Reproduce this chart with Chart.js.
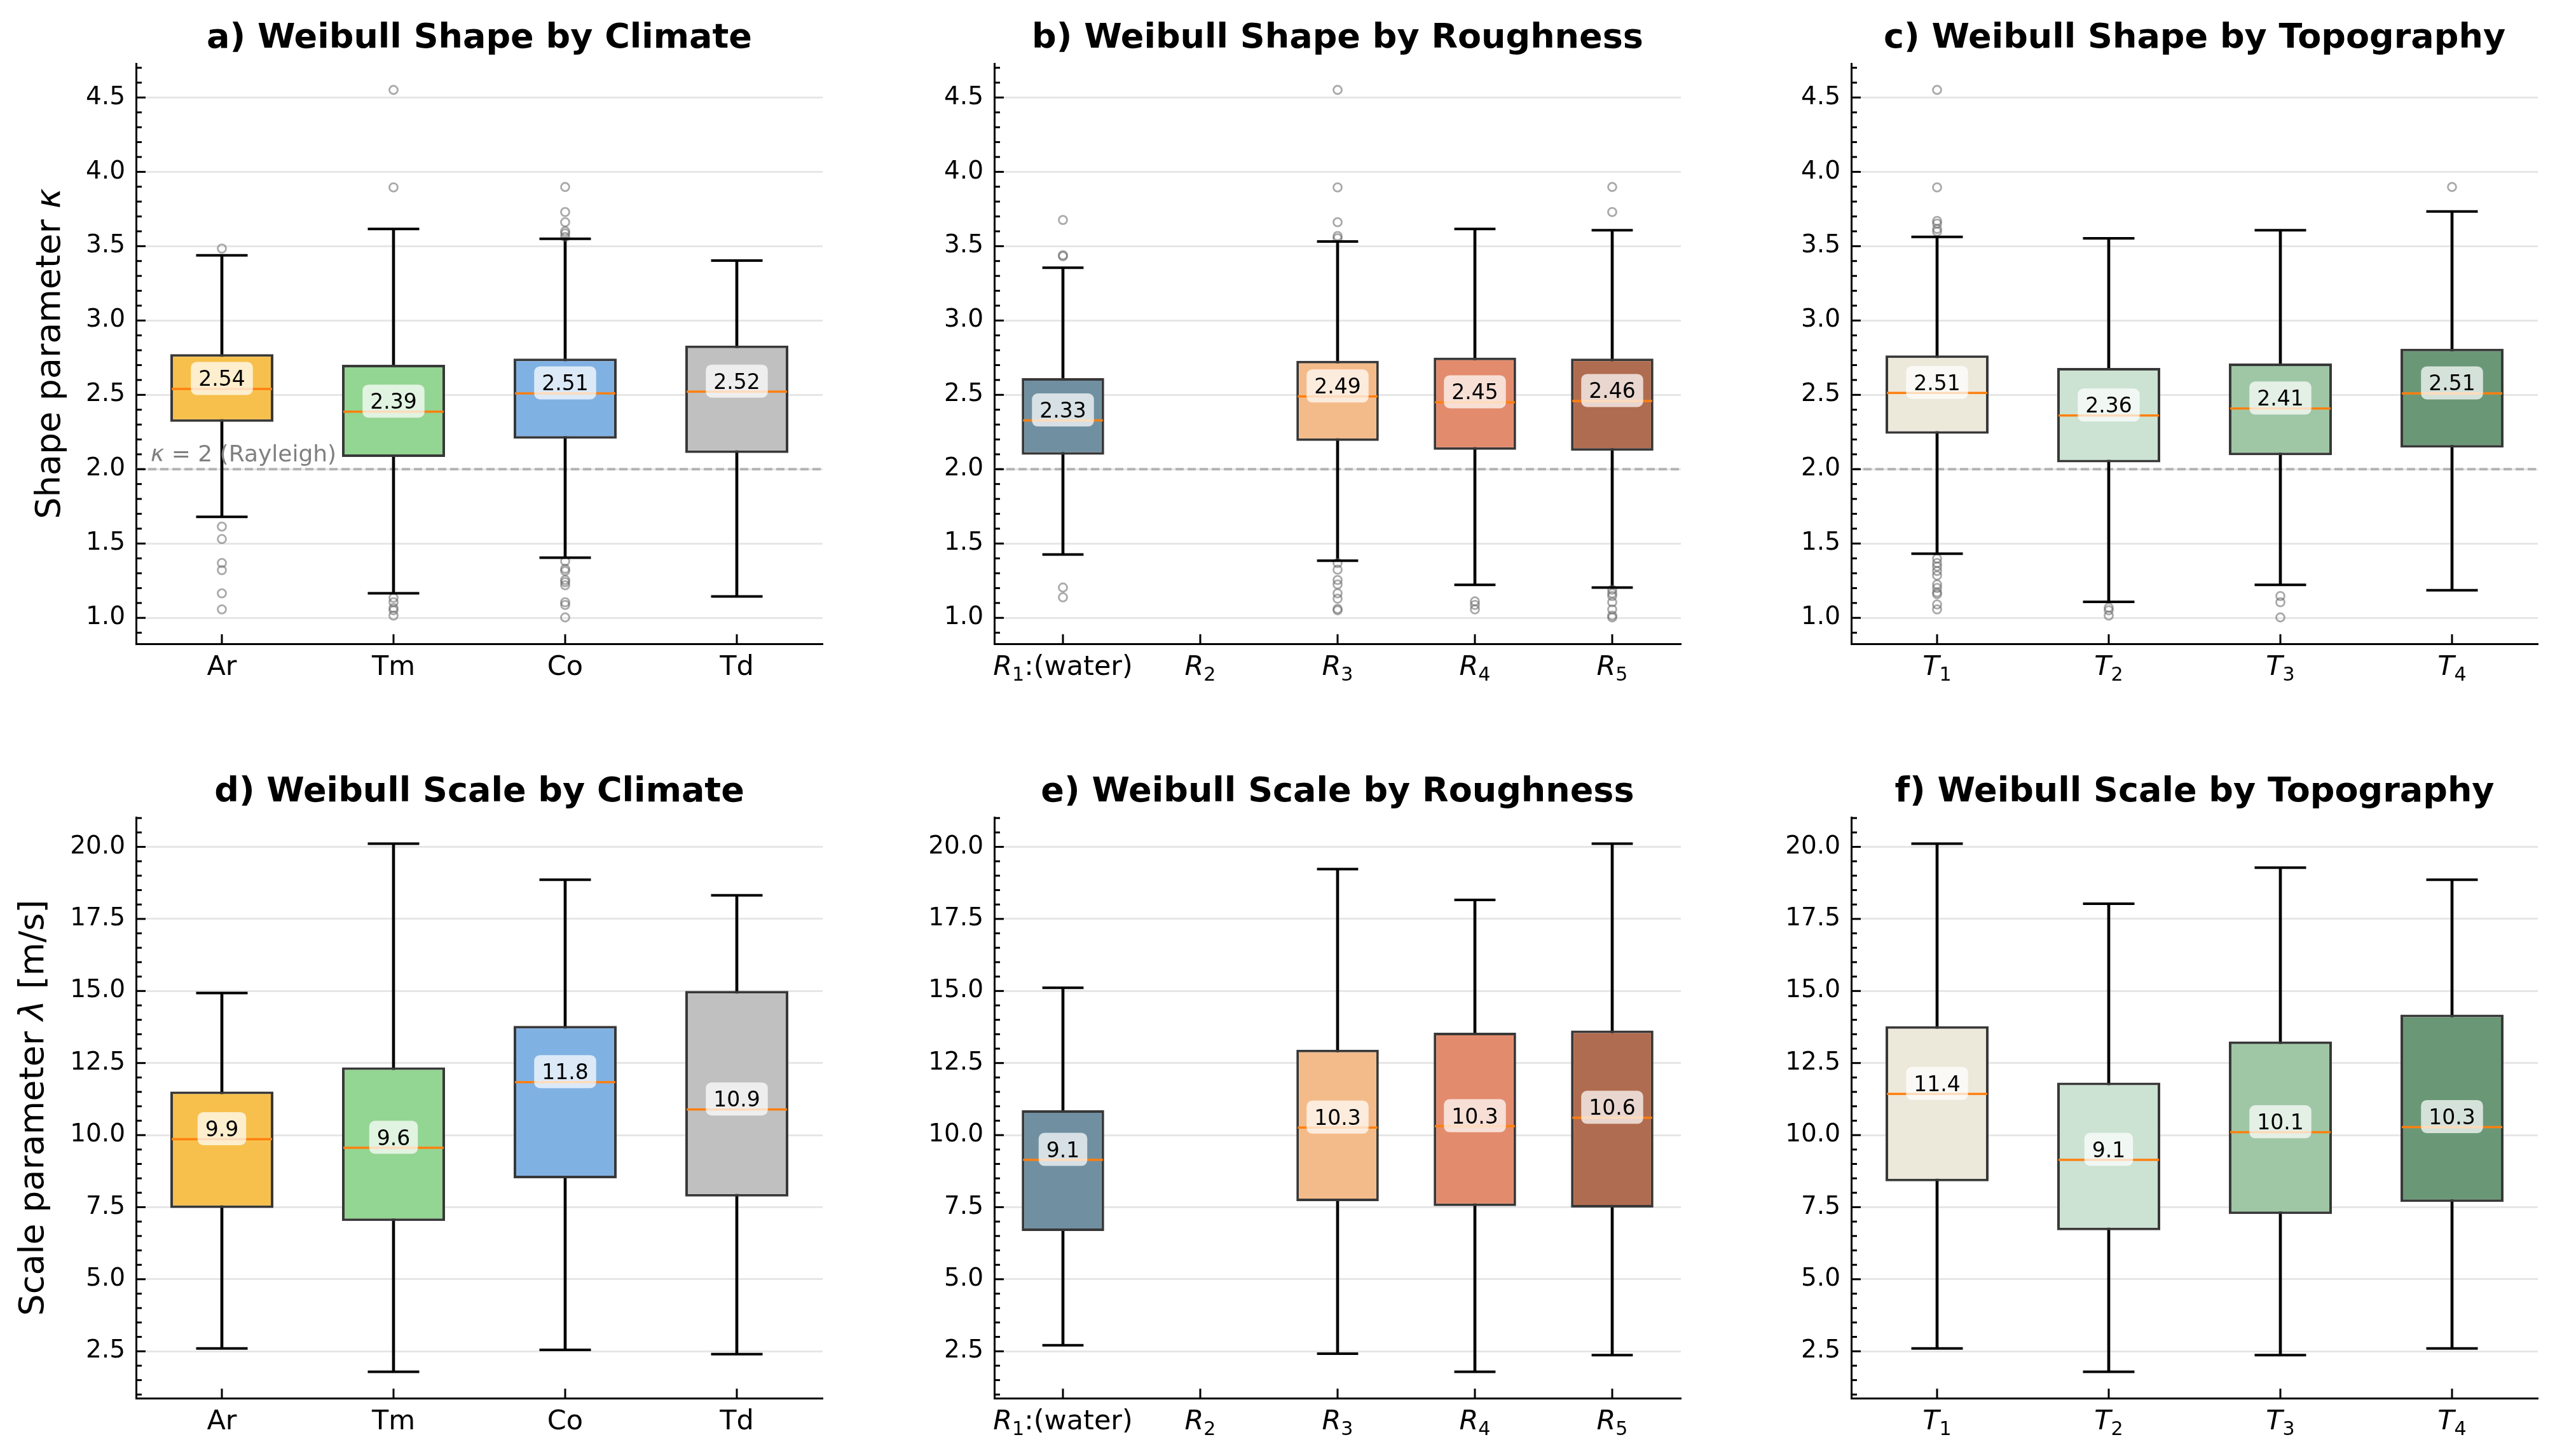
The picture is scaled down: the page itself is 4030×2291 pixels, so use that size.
<!DOCTYPE html>
<html>
<head>
<meta charset="utf-8">
<script src="https://cdn.jsdelivr.net/npm/chart.js@4.4.0/dist/chart.umd.min.js"></script>
<style>
  html, body { margin: 0; padding: 0; background: #fff; }
  body { width: 4030px; height: 2291px; position: relative; overflow: hidden; }
  canvas { position: absolute; }
</style>
</head>
<body>
<canvas id="pa"></canvas>
<canvas id="pb"></canvas>
<canvas id="pc"></canvas>
<canvas id="pd"></canvas>
<canvas id="pe"></canvas>
<canvas id="pf"></canvas>
<script>
// categories (mathtext-ish: _n is a subscript)
const climateCats = ['Ar', 'Tm', 'Co', 'Td'];
const roughCats = ['R_1:(water)', 'R_2', 'R_3', 'R_4', 'R_5'];
const topoCats = ['T_1', 'T_2', 'T_3', 'T_4'];

const climateColors = ['#f7c04c', '#93d592', '#80b1e3', '#c0c0c0'];
const roughColors = ['#7090a1', '#c9c9c9', '#f4bb8a', '#e38b6d', '#b06c50'];
const topoColors = ['#ece8da', '#cce2d3', '#9fc7a6', '#6a9877'];

const titles = [
  'a) Weibull Shape by Climate', 'b) Weibull Shape by Roughness', 'c) Weibull Shape by Topography',
  'd) Weibull Scale by Climate', 'e) Weibull Scale by Roughness', 'f) Weibull Scale by Topography'
];
const shapeLabel = 'Shape parameter $κ$';
const scaleLabel = 'Scale parameter $λ$ [m/s]';
const rayleighText = '$κ$ = 2 (Rayleigh)';
const rayleighK = 2.0;

const shapeTicks = [1.0, 1.5, 2.0, 2.5, 3.0, 3.5, 4.0, 4.5];
const scaleTicks = [2.5, 5.0, 7.5, 10.0, 12.5, 15.0, 17.5, 20.0];

// a) shape by climate
const shClimQ1 = [2.319, 2.082, 2.205, 2.109];
const shClimMed = [2.540, 2.387, 2.510, 2.522];
const shClimQ3 = [2.774, 2.702, 2.744, 2.831];
const shClimLo = [1.680, 1.165, 1.405, 1.144];
const shClimHi = [3.439, 3.616, 3.550, 3.403];
const shClimOut = [
  [3.484, 1.614, 1.530, 1.369, 1.321, 1.165, 1.057],
  [4.551, 3.895, 1.135, 1.105, 1.066, 1.051, 1.015],
  [3.898, 3.730, 3.661, 3.601, 3.586, 3.562, 1.381, 1.330, 1.315, 1.255, 1.240, 1.219, 1.105, 1.087, 1.003],
  []
];

// b) shape by roughness (R2 has no stations)
const shRoughQ1 = [2.097, null, 2.190, 2.130, 2.124];
const shRoughMed = [2.328, null, 2.489, 2.450, 2.459];
const shRoughQ3 = [2.612, null, 2.729, 2.750, 2.744];
const shRoughLo = [1.426, null, 1.384, 1.222, 1.204];
const shRoughHi = [3.355, null, 3.532, 3.616, 3.607];
const shRoughOut = [
  [3.676, 3.439, 3.433, 1.204, 1.138],
  [],
  [4.551, 3.895, 3.661, 3.568, 3.553, 1.369, 1.324, 1.255, 1.225, 1.165, 1.129, 1.060, 1.051],
  [1.111, 1.087, 1.057],
  [3.898, 3.730, 1.189, 1.165, 1.147, 1.105, 1.057, 1.015, 1.003]
];

// c) shape by topography
const shTopoQ1 = [2.238, 2.046, 2.094, 2.145];
const shTopoMed = [2.513, 2.361, 2.408, 2.510];
const shTopoQ3 = [2.765, 2.681, 2.711, 2.810];
const shTopoLo = [1.432, 1.108, 1.222, 1.186];
const shTopoHi = [3.562, 3.553, 3.607, 3.733];
const shTopoOut = [
  [4.551, 3.895, 3.670, 3.652, 3.616, 3.598, 1.399, 1.369, 1.345, 1.315, 1.285, 1.225, 1.201, 1.171, 1.159, 1.090, 1.057],
  [1.069, 1.051, 1.015],
  [1.147, 1.105, 1.003],
  [3.898]
];

// d) scale by climate
const scClimQ1 = [7.47, 7.02, 8.50, 7.87];
const scClimMed = [9.86, 9.56, 11.84, 10.89];
const scClimQ3 = [11.51, 12.35, 13.79, 15.00];
const scClimLo = [2.60, 1.79, 2.55, 2.40];
const scClimHi = [14.93, 20.11, 18.86, 18.32];

// e) scale by roughness
const scRoughQ1 = [6.67, null, 7.71, 7.54, 7.49];
const scRoughMed = [9.14, null, 10.26, 10.31, 10.60];
const scRoughQ3 = [10.86, null, 12.96, 13.55, 13.63];
const scRoughLo = [2.71, null, 2.42, 1.79, 2.37];
const scRoughHi = [15.11, null, 19.23, 18.16, 20.11];

// f) scale by topography
const scTopoQ1 = [8.40, 6.70, 7.26, 7.68];
const scTopoMed = [11.43, 9.14, 10.10, 10.28];
const scTopoQ3 = [13.78, 11.82, 13.25, 14.18];
const scTopoLo = [2.60, 1.79, 2.37, 2.60];
const scTopoHi = [20.11, 18.03, 19.28, 18.86];

Chart.defaults.font.family = '"DejaVu Sans", sans-serif';
Chart.defaults.color = '#000';

const FONT = '"DejaVu Sans"';

// split "text $math$ text" into segments; math is italic, X_n -> subscript
function parseLabel(str) {
  const segs = [];
  str.split('$').forEach((part, k) => {
    if (!part) return;
    if (k % 2 === 1) { segs.push({ t: part, italic: true }); return; }
    const m = part.match(/^([A-Za-z])_(\d)(.*)$/);
    if (m) {
      segs.push({ t: m[1], italic: true });
      segs.push({ t: m[2], sub: true });
      if (m[3]) segs.push({ t: m[3] });
    } else {
      segs.push({ t: part });
    }
  });
  return segs;
}

function segFont(s, size) {
  if (s.sub) return (size * 0.7) + 'px ' + FONT;
  return (s.italic ? 'italic ' : '') + size + 'px ' + FONT;
}

function drawSegs(ctx, segs, x, y, size, align) {
  const w = segs.map(s => { ctx.font = segFont(s, size); return ctx.measureText(s.t).width; });
  const total = w.reduce((a, b) => a + b, 0);
  let cx = align === 'center' ? x - total / 2 : x;
  ctx.textAlign = 'left';
  ctx.textBaseline = 'alphabetic';
  segs.forEach((s, i) => {
    ctx.font = segFont(s, size);
    ctx.fillText(s.t, cx, y + (s.sub ? size * 0.2 : 0));
    cx += w[i];
  });
}

function roundRect(ctx, x, y, w, h, r) {
  ctx.beginPath();
  ctx.moveTo(x + r, y);
  ctx.arcTo(x + w, y, x + w, y + h, r);
  ctx.arcTo(x + w, y + h, x, y + h, r);
  ctx.arcTo(x, y + h, x, y, r);
  ctx.arcTo(x, y, x + w, y, r);
  ctx.closePath();
}

const boxExtras = {
  id: 'boxExtras',
  beforeDatasetsDraw(chart, args, o) {
    if (o.refLine == null) return;
    const { ctx, chartArea: ca } = chart;
    const py = chart.scales.y.getPixelForValue(o.refLine);
    ctx.save();
    ctx.strokeStyle = '#b3b3b3';
    ctx.lineWidth = 4;
    ctx.setLineDash([13, 6]);
    ctx.beginPath();
    ctx.moveTo(ca.left, py);
    ctx.lineTo(ca.right, py);
    ctx.stroke();
    ctx.restore();
  },
  afterDatasetsDraw(chart, args, o) {
    const { ctx } = chart;
    const y = chart.scales.y;
    const bars = chart.getDatasetMeta(1).data;
    ctx.save();
    o.med.forEach((m, i) => {
      if (m == null) return;
      const bar = bars[i];
      const half = bar.width / 2;
      // caps
      ctx.strokeStyle = '#000';
      ctx.lineWidth = 4;
      [o.lo[i], o.hi[i]].forEach(v => {
        const py = y.getPixelForValue(v);
        ctx.beginPath();
        ctx.moveTo(bar.x - half / 2, py);
        ctx.lineTo(bar.x + half / 2, py);
        ctx.stroke();
      });
      // median
      const pm = y.getPixelForValue(m);
      ctx.strokeStyle = '#ff7f0e';
      ctx.lineWidth = 3.5;
      ctx.beginPath();
      ctx.moveTo(bar.x - half + 2, pm);
      ctx.lineTo(bar.x + half - 2, pm);
      ctx.stroke();
      // median label
      const txt = m.toFixed(o.digits);
      ctx.font = '33px ' + FONT;
      const tw = ctx.measureText(txt).width;
      const bw = tw + 24, bh = 52, cy = pm - 16.5;
      ctx.fillStyle = 'rgba(255,255,255,0.72)';
      roundRect(ctx, bar.x - bw / 2, cy - bh / 2, bw, bh, 9);
      ctx.fill();
      ctx.fillStyle = '#000';
      ctx.textAlign = 'center';
      ctx.textBaseline = 'alphabetic';
      ctx.fillText(txt, bar.x, cy + 12);
    });
    ctx.restore();
  },
  afterDraw(chart, args, o) {
    const { ctx, chartArea: ca } = chart;
    const x = chart.scales.x, y = chart.scales.y;
    ctx.save();
    ctx.strokeStyle = '#000';
    ctx.lineWidth = 3;
    // inward major / minor ticks on y
    const minorStep = o.minorStep;
    for (let v = Math.ceil(y.min / minorStep) * minorStep; v <= y.max; v += minorStep) {
      const py = y.getPixelForValue(v);
      const isMajor = o.ticks.some(t => Math.abs(t - v) < minorStep / 10);
      ctx.beginPath();
      ctx.moveTo(ca.left, py);
      ctx.lineTo(ca.left + (isMajor ? 15 : 9), py);
      ctx.stroke();
    }
    // inward ticks on x + labels
    chart.data.labels.forEach((lab, i) => {
      const px = x.getPixelForValue(i);
      ctx.beginPath();
      ctx.moveTo(px, ca.bottom);
      ctx.lineTo(px, ca.bottom - 15);
      ctx.stroke();
      ctx.fillStyle = '#000';
      drawSegs(ctx, parseLabel(lab), px, ca.bottom + 49, 43, 'center');
    });
    // title
    ctx.fillStyle = '#000';
    ctx.font = 'bold 54px ' + FONT;
    ctx.textAlign = 'center';
    ctx.textBaseline = 'alphabetic';
    ctx.fillText(o.title, (ca.left + ca.right) / 2, ca.top - 25);
    // y label
    if (o.ylabel) {
      ctx.save();
      ctx.translate(ca.left - o.ylabelOffset, (ca.top + ca.bottom) / 2);
      ctx.rotate(-Math.PI / 2);
      drawSegs(ctx, parseLabel(o.ylabel), 0, 0, 54, 'center');
      ctx.restore();
    }
    // Rayleigh annotation
    if (o.refText) {
      ctx.fillStyle = '#808080';
      drawSegs(ctx, parseLabel(o.refText), ca.left + 23, y.getPixelForValue(o.refLine) - 12, 36, 'left');
    }
    ctx.restore();
  }
};

function paddedRange(arrs) {
  const vals = arrs.flat(2).filter(v => v != null);
  const mn = Math.min(...vals), mx = Math.max(...vals);
  const p = (mx - mn) * 0.05;
  return [mn - p, mx + p];
}

const shapeRange = paddedRange([shClimLo, shClimHi, shClimOut, shRoughLo, shRoughHi, shRoughOut, shTopoLo, shTopoHi, shTopoOut]);
const scaleRange = paddedRange([scClimLo, scClimHi, scRoughLo, scRoughHi, scTopoLo, scTopoHi]);

const colLeft = [214, 1564, 2912];
const rowTop = [100, 1286];
const rowH = [913, 914];
const AXW = 1080, YW = 210, XH = 90, PADT = 100, PADR = 30;

function makePanel(id, col, row, cats, colors, q1, med, q3, lo, hi, out, opts) {
  const cv = document.getElementById(id);
  cv.width = YW + AXW + PADR;
  cv.height = PADT + rowH[row] + XH;
  cv.style.left = (colLeft[col] - YW) + 'px';
  cv.style.top = (rowTop[row] - PADT) + 'px';

  const outPts = [];
  (out || []).forEach((list, i) => list.forEach(v => outPts.push({ x: cats[i], y: v })));

  new Chart(cv, {
    type: 'bar',
    data: {
      labels: cats,
      datasets: [
        { // whiskers
          data: lo.map((v, i) => v == null ? null : [v, hi[i]]),
          backgroundColor: '#000',
          barThickness: 4,
          grouped: false,
          order: 3
        },
        { // boxes
          data: q1.map((v, i) => v == null ? null : [v, q3[i]]),
          backgroundColor: colors,
          borderColor: '#383838',
          borderWidth: 4,
          borderSkipped: false,
          barPercentage: 0.6,
          categoryPercentage: 1.0,
          grouped: false,
          order: 2
        },
        { // outliers
          type: 'line',
          data: outPts,
          showLine: false,
          pointRadius: 6.5,
          pointBorderWidth: 2.8,
          pointBorderColor: 'rgba(100,100,100,0.55)',
          pointBackgroundColor: 'rgba(0,0,0,0)',
          order: 1
        }
      ]
    },
    options: {
      responsive: false,
      devicePixelRatio: 1,
      animation: false,
      events: [],
      layout: { padding: { left: 0, right: PADR, top: PADT, bottom: 0 } },
      plugins: {
        legend: { display: false },
        tooltip: { enabled: false },
        title: { display: false },
        boxExtras: {
          med, lo, hi,
          digits: opts.digits,
          ticks: opts.ticks,
          minorStep: opts.minorStep,
          title: opts.title,
          ylabel: opts.ylabel,
          ylabelOffset: opts.ylabelOffset,
          refLine: opts.refLine,
          refText: opts.refText
        }
      },
      scales: {
        x: {
          type: 'category',
          offset: true,
          grid: { display: false },
          border: { display: true, color: '#000', width: 3 },
          ticks: { display: false },
          afterFit: s => { s.height = XH; }
        },
        y: {
          min: opts.range[0],
          max: opts.range[1],
          grid: { color: '#e6e6e6', lineWidth: 3, drawTicks: false },
          border: { display: true, color: '#000', width: 3 },
          ticks: {
            includeBounds: false,
            padding: 17,
            font: { size: 39 },
            color: '#000',
            callback: v => Number(v).toFixed(1)
          },
          afterBuildTicks: s => { s.ticks = opts.ticks.map(v => ({ value: v })); },
          afterFit: s => { s.width = YW; }
        }
      }
    },
    plugins: [boxExtras]
  });
}

const shapeOpts = (title, extra) => Object.assign({
  title, digits: 2, ticks: shapeTicks, minorStep: 0.1, range: shapeRange, refLine: rayleighK
}, extra);
const scaleOpts = (title, extra) => Object.assign({
  title, digits: 1, ticks: scaleTicks, minorStep: 0.5, range: scaleRange, refLine: null
}, extra);

makePanel('pa', 0, 0, climateCats, climateColors, shClimQ1, shClimMed, shClimQ3, shClimLo, shClimHi, shClimOut,
  shapeOpts(titles[0], { ylabel: shapeLabel, ylabelOffset: 120, refText: rayleighText }));
makePanel('pb', 1, 0, roughCats, roughColors, shRoughQ1, shRoughMed, shRoughQ3, shRoughLo, shRoughHi, shRoughOut,
  shapeOpts(titles[1]));
makePanel('pc', 2, 0, topoCats, topoColors, shTopoQ1, shTopoMed, shTopoQ3, shTopoLo, shTopoHi, shTopoOut,
  shapeOpts(titles[2]));
makePanel('pd', 0, 1, climateCats, climateColors, scClimQ1, scClimMed, scClimQ3, scClimLo, scClimHi, null,
  scaleOpts(titles[3], { ylabel: scaleLabel, ylabelOffset: 146 }));
makePanel('pe', 1, 1, roughCats, roughColors, scRoughQ1, scRoughMed, scRoughQ3, scRoughLo, scRoughHi, null,
  scaleOpts(titles[4]));
makePanel('pf', 2, 1, topoCats, topoColors, scTopoQ1, scTopoMed, scTopoQ3, scTopoLo, scTopoHi, null,
  scaleOpts(titles[5]));
</script>
</body>
</html>
